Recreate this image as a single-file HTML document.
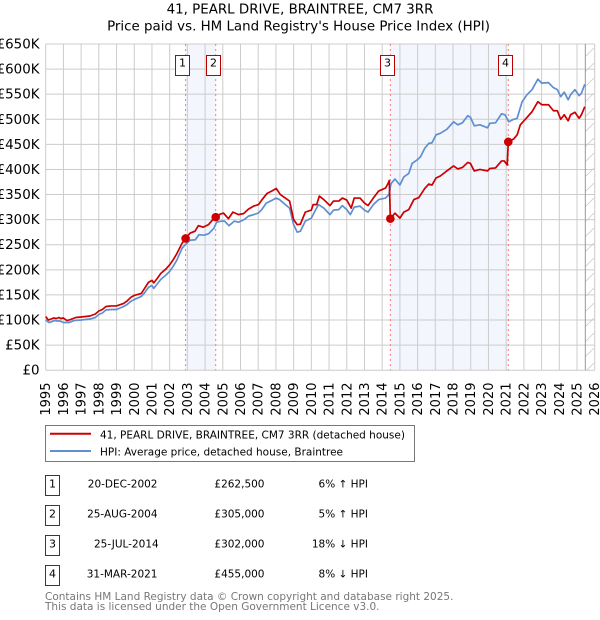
<!DOCTYPE html>
<html>
<head>
<meta charset="utf-8">
<title>41, Pearl Drive, Braintree price chart</title>
<style>
html,body{margin:0;padding:0;background:#fff;}
body{width:600px;height:620px;overflow:hidden;font-family:"DejaVu Sans","Liberation Sans",sans-serif;}
svg{display:block;}
text{font-family:"DejaVu Sans","Liberation Sans",sans-serif;fill:#000;}
</style>
</head>
<body>
<svg id="chart" xmlns="http://www.w3.org/2000/svg" width="600" height="620" viewBox="0 0 600 620">
  <defs>
    <pattern id="hatch" patternUnits="userSpaceOnUse" width="9" height="15">
      <line x1="0" y1="12" x2="9" y2="3" stroke="#ccc" stroke-width="0.8"/>
      <line x1="0" y1="-3" x2="9" y2="-12" stroke="#ccc" stroke-width="0.8"/>
    </pattern>
  </defs>
  <text x="300" y="13.500" font-size="13.400" text-anchor="middle">41, PEARL DRIVE, BRAINTREE, CM7 3RR</text>
  <text x="298.500" y="30.700" font-size="13.400" text-anchor="middle">Price paid vs. HM Land Registry's House Price Index (HPI)</text>
  <g id="plot"></g>

  <g>
    <rect x="45.500" y="425.500" width="369" height="36" fill="#fff" stroke="#777" stroke-width="1"/>
    <line x1="50" y1="433.700" x2="91" y2="433.700" stroke="#cc0000" stroke-width="2"/>
    <text x="100" y="438.300" font-size="10.500">41, PEARL DRIVE, BRAINTREE, CM7 3RR (detached house)</text>
    <line x1="50" y1="451" x2="91" y2="451" stroke="#5f8fd0" stroke-width="2"/>
    <text x="100" y="455.300" font-size="10.500">HPI: Average price, detached house, Braintree</text>
  </g>

  <g>
    <g>
      <rect x="45.500" y="475.500" width="14" height="20" fill="#fff" stroke="#b00" stroke-width="1"/>
      <text x="52.500" y="487.300" text-anchor="middle" font-size="11">1</text>
      <text x="157.500" y="487.300" text-anchor="end" font-size="10.500">20-DEC-2002</text>
      <text x="264.500" y="487.300" text-anchor="end" font-size="10.500">£262,500</text>
      <text x="368" y="487.300" text-anchor="end" font-size="10.500">6% ↑ HPI</text>
    </g>
    <g>
      <rect x="45.500" y="505.500" width="14" height="20" fill="#fff" stroke="#b00" stroke-width="1"/>
      <text x="52.500" y="517.300" text-anchor="middle" font-size="11">2</text>
      <text x="157.500" y="517.300" text-anchor="end" font-size="10.500">25-AUG-2004</text>
      <text x="264.500" y="517.300" text-anchor="end" font-size="10.500">£305,000</text>
      <text x="368" y="517.300" text-anchor="end" font-size="10.500">5% ↑ HPI</text>
    </g>
    <g>
      <rect x="45.500" y="535.500" width="14" height="20" fill="#fff" stroke="#b00" stroke-width="1"/>
      <text x="52.500" y="547.300" text-anchor="middle" font-size="11">3</text>
      <text x="158.700" y="547.300" text-anchor="end" font-size="10.500">25-JUL-2014</text>
      <text x="264.500" y="547.300" text-anchor="end" font-size="10.500">£302,000</text>
      <text x="368" y="547.300" text-anchor="end" font-size="10.500">18% ↓ HPI</text>
    </g>
    <g>
      <rect x="45.500" y="565.500" width="14" height="20" fill="#fff" stroke="#b00" stroke-width="1"/>
      <text x="52.500" y="577.300" text-anchor="middle" font-size="11">4</text>
      <text x="157.500" y="577.300" text-anchor="end" font-size="10.500">31-MAR-2021</text>
      <text x="264.500" y="577.300" text-anchor="end" font-size="10.500">£455,000</text>
      <text x="368" y="577.300" text-anchor="end" font-size="10.500">8% ↓ HPI</text>
    </g>
  </g>

  <text x="45" y="600" font-size="10.500" style="fill:#777">Contains HM Land Registry data © Crown copyright and database right 2025.</text>
  <text x="45" y="610" font-size="10.500" style="fill:#777">This data is licensed under the Open Government Licence v3.0.</text>
</svg>
<script>
var yTickValues = [0,50,100,150,200,250,300,350,400,450,500,550,600,650];
var yTickLabels = ["£0","£50K","£100K","£150K","£200K","£250K","£300K","£350K","£400K","£450K","£500K","£550K","£600K","£650K"];
var xTickYears = [1995,1996,1997,1998,1999,2000,2001,2002,2003,2004,2005,2006,2007,2008,2009,2010,2011,2012,2013,2014,2015,2016,2017,2018,2019,2020,2021,2022,2023,2024,2025,2026];
var saleYears = [2002.9,2004.6,2014.46,2021.12];
var salePrices = [262.5,305,302,455];
var saleNumbers = ["1","2","3","4"];
var dataEndYear = 2025.47;

var hpiYears = [1995,1995.1,1995.2,1995.35,1995.5,1995.65,1995.8,1996,1996.3,1996.6,1997,1997.5,1997.8,1998,1998.2,1998.4,1998.7,1999,1999.4,1999.6,1999.8,2000,2000.4,2000.6,2000.8,2001,2001.1,2001.3,2001.5,2001.8,2002,2002.2,2002.4,2002.7,2002.9,
2003.15,2003.45,2003.65,2003.95,2004.2,2004.5,2004.65,2004.9,2005.1,2005.35,2005.65,2005.9,2006.2,2006.45,2006.75,2007,2007.2,2007.45,2007.75,2008,2008.2,2008.53,2008.77,2009,2009.2,2009.38,2009.66,2010,2010.2,2010.4,2010.7,2011.05,2011.25,2011.55,2011.75,2012,2012.2,2012.42,2012.75,2013,2013.2,2013.5,2013.8,2014.19,2014.38,2014.5,
2014.72,2015,2015.22,2015.5,2015.69,2015.97,2016.16,2016.4,2016.63,2016.81,2017.04,2017.28,2017.65,2018.03,2018.27,2018.53,2018.83,2018.98,2019.2,2019.52,2019.95,2020.08,2020.4,2020.74,2020.93,2021.15,2021.43,2021.62,2021.9,2022.18,2022.46,2022.79,2023.01,2023.39,2023.67,2023.89,2024.08,2024.28,2024.5,2024.64,2024.88,2025.12,2025.25,2025.44];
var hpiValues = [101,97,95,97,99,98,98,95,95,99,100,102,105,111,114,120,121,121,127,131,137,141,147,155,165,169,163,172,181,190,197,207,219,243,251,
259,260,270,269,272,283,295,297,297,288,297,295,300,307,310,313,320,333,338,343,340,330,323,290,275,277,297,303,317,330,323,310,319,320,328,320,310,325,327,319,315,330,340,343,350,372,
381,369,385,392,412,419,425,442,452,453,469,472,480,495,489,493,507,504,487,489,483,492,493,511,509,495,500,502,535,549,559,580,572,573,563,559,545,554,539,549,559,547,552,570];

var priceYears = [1995,1995.15,1995.3,1995.45,1995.6,1995.75,1995.85,1996,1996.2,1996.4,1996.7,1997,1997.5,1997.8,1998,1998.2,1998.4,1998.7,1999,1999.4,1999.6,1999.8,2000,2000.4,2000.6,2000.8,2001,2001.1,2001.3,2001.5,2001.8,2002,2002.2,2002.4,2002.7,2002.9,
2003.15,2003.43,2003.62,2003.9,2004.19,2004.43,2004.6,2004.85,2005.04,2005.32,2005.57,2005.89,2006.17,2006.45,2006.74,2007.02,2007.2,2007.49,2007.77,2008.02,2008.25,2008.53,2008.77,2009,2009.2,2009.38,2009.66,2010,2010.1,2010.3,2010.45,2010.7,2011.05,2011.25,2011.55,2011.75,2012,2012.25,2012.42,2012.75,2013,2013.2,2013.5,2013.8,2014.19,2014.33,2014.4,2014.46,
2014.72,2015,2015.22,2015.5,2015.79,2016.07,2016.4,2016.63,2016.81,2017.04,2017.28,2017.65,2018.03,2018.27,2018.53,2018.83,2018.98,2019.2,2019.52,2019.95,2020.08,2020.4,2020.74,2020.89,2021.06,2021.12,2021.43,2021.62,2021.8,2022.18,2022.46,2022.79,2023.01,2023.39,2023.67,2023.89,2024.08,2024.28,2024.5,2024.64,2024.88,2025.12,2025.25,2025.44];
var priceValues = [107,100,102,104,103,105,103,104,99,101,105,106,108,112,118,121,127,128,128,133,138,145,149,153,164,175,179,174,183,193,202,210,220,232,253,262.5,
273,277,288,285,290,300,305,311,313,302,315,310,312,321,327,330,339,352,357,362,350,343,337,300,290,291,315,319,330,330,347,340,328,337,337,343,339,323,343,343,333,328,343,357,363,372,378,302,
313,303,315,320,340,344,362,371,369,383,387,397,407,401,404,414,412,397,400,397,402,403,417,417,409,455,461,469,489,504,515,535,529,529,517,517,500,509,497,509,514,502,509,525];

var SVGNS = "http://www.w3.org/2000/svg";
var plot = document.getElementById("plot");
var X0 = 45.7, XSCALE = 17.71, Y0 = 370.2, YSCALE = 326.2 / 650;
var PLOT_TOP = Y0 - 650 * YSCALE;
var END_YEAR = xTickYears[xTickYears.length - 1];

function xAt(year) { return X0 + (year - 1995) * XSCALE; }
function yAt(value) { return Y0 - value * YSCALE; }
function mk(tag, attrs, parent) {
  var el = document.createElementNS(SVGNS, tag);
  for (var k in attrs) el.setAttribute(k, attrs[k]);
  (parent || plot).appendChild(el);
  return el;
}
function linePoints(xs, vs) {
  var out = [];
  for (var i = 0; i < xs.length; i++) out.push(xAt(xs[i]).toFixed(2) + "," + yAt(vs[i]).toFixed(2));
  return out.join(" ");
}

var shade1 = mk("rect", {x: xAt(saleYears[0]), y: PLOT_TOP, width: xAt(saleYears[1]) - xAt(saleYears[0]), height: Y0 - PLOT_TOP, fill: "#f3f6fd"});


var shade2 = mk("rect", {x: xAt(saleYears[2]), y: PLOT_TOP, width: xAt(saleYears[3]) - xAt(saleYears[2]), height: Y0 - PLOT_TOP, fill: "#f3f6fd"});



var hatch = mk("rect", {x: xAt(dataEndYear), y: PLOT_TOP, width: xAt(END_YEAR) - xAt(dataEndYear), height: Y0 - PLOT_TOP, fill: "url(#hatch)"});



yTickValues.forEach(function (v, i) {
  var g = mk("line", {x1: X0, x2: xAt(END_YEAR), y1: yAt(v), y2: yAt(v), stroke: "#ccc", "stroke-width": 1});
  
  
  var t = mk("text", {x: 39.5, y: yAt(v) + 4.5, "text-anchor": "end", "font-size": 13.4});
  
  
  t.textContent = yTickLabels[i];
});
xTickYears.forEach(function (yr) {
  var g = mk("line", {x1: xAt(yr), x2: xAt(yr), y1: PLOT_TOP, y2: Y0, stroke: "#ccc", "stroke-width": 1});
  
  
  var px = xAt(yr) + 4.5, py = 382.5;
  var t = mk("text", {x: px, y: py, "text-anchor": "end", "font-size": 13, transform: "rotate(-90 " + px + " " + py + ")"});
  
  
  t.textContent = String(yr);
});

var endLine = mk("line", {x1: xAt(dataEndYear), x2: xAt(dataEndYear), y1: PLOT_TOP, y2: Y0, stroke: "#999", "stroke-width": 1});



saleYears.forEach(function (yr) {
  var d = mk("line", {x1: xAt(yr), x2: xAt(yr), y1: PLOT_TOP, y2: Y0, stroke: "#f77", "stroke-width": 1, "stroke-dasharray": "2,3"});
  
  
});

var hpiLine = mk("polyline", {points: linePoints(hpiYears, hpiValues), fill: "none", stroke: "#5f8fd0", "stroke-width": 1.7, "stroke-linejoin": "round"});


var priceLine = mk("polyline", {points: linePoints(priceYears, priceValues), fill: "none", stroke: "#cc0000", "stroke-width": 1.7, "stroke-linejoin": "round"});



saleYears.forEach(function (yr, i) {
  var c = mk("circle", {cx: xAt(yr), cy: yAt(salePrices[i]), r: 4.3, fill: "#cc0000"});
  
  
  var bx = Math.round(xAt(yr) - 10.2) + 0.5;
  var b = mk("rect", {x: bx, y: 55.5, width: 14, height: 20, fill: "#fff", stroke: "#b00", "stroke-width": 1});
  
  
  var t = mk("text", {x: bx + 7, y: 66.7, "text-anchor": "middle", "font-size": 11});
  
  
  t.textContent = saleNumbers[i];
});
</script>
</body>
</html>
